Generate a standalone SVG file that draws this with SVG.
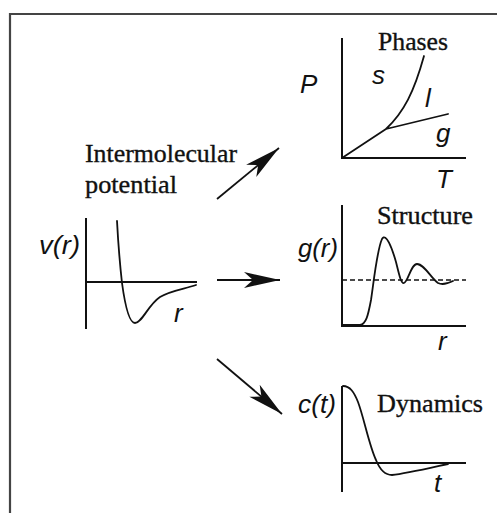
<svg xmlns="http://www.w3.org/2000/svg" width="497" height="513" viewBox="0 0 497 513">
<defs>
<style>
.ax{fill:none;stroke:#111;stroke-width:2}
.cv{fill:none;stroke:#111;stroke-width:1.8;stroke-linejoin:round;stroke-linecap:round}
.dash{fill:none;stroke:#111;stroke-width:1.5;stroke-dasharray:5 3}
.ttl{font-family:"Liberation Serif","Times New Roman",serif;font-size:26px;fill:#111;stroke:#111;stroke-width:0.35}
.lab{font-family:"Liberation Sans",Arial,sans-serif;font-style:italic;font-size:26px;fill:#111}
.arr{fill:none;stroke:#111;stroke-width:1.8}
</style>
<marker id="ah" markerUnits="userSpaceOnUse" markerWidth="40" markerHeight="20" viewBox="-38 -9 40 18" refX="0" refY="0" orient="auto">
<path d="M0,0 L-36,-8 L-27,0 L-36,8 Z" fill="#111"/>
</marker>
</defs>
<rect width="497" height="513" fill="#fff"/>
<path d="M10,513 V14 H497" fill="none" stroke="#444" stroke-width="2.2"/>

<g id="potential">
<text class="ttl" x="85" y="162" textLength="152" lengthAdjust="spacingAndGlyphs">Intermolecular</text>
<text class="ttl" x="85" y="193" textLength="92" lengthAdjust="spacingAndGlyphs">potential</text>
<path class="ax" d="M86,218 V329 M86,282 H197"/>
<path class="cv" d="M117,221 C118,240 120,265 122,283 C125,305 129,323 135,323 C142,323 148,305 160,297 C172,290 185,289 196,285"/>
<text class="lab" x="39" y="254" textLength="41" lengthAdjust="spacingAndGlyphs">v(r)</text>
<text class="lab" x="174" y="322">r</text>
</g>

<g id="phases">
<path class="ax" d="M342,38 V158 H466"/>
<path class="cv" d="M342,158 L386,129 L448,114 M386,129 C404,112 414,92 424,56"/>
<text class="ttl" x="378" y="50" textLength="70" lengthAdjust="spacingAndGlyphs">Phases</text>
<text class="lab" x="300" y="93">P</text>
<text class="lab" x="372" y="84">s</text>
<text class="lab" x="425" y="107">l</text>
<text class="lab" x="436" y="142">g</text>
<text class="lab" x="436" y="188">T</text>
</g>

<g id="structure">
<path class="ax" d="M342,205 V326 H466"/>
<path class="dash" d="M342,280 H466"/>
<path class="cv" d="M342,325 L360,325 C366,324 368,316 371,300 C374,280 377,250 382,239 C386,232 392,248 396,262 C399,274 401,284 404,283 C408,282 411,264 417,264 C424,264 431,278 438,283 C442,285 447,284 453,281"/>
<text class="ttl" x="377" y="224" textLength="96" lengthAdjust="spacingAndGlyphs">Structure</text>
<text class="lab" x="298" y="257" textLength="40" lengthAdjust="spacingAndGlyphs">g(r)</text>
<text class="lab" x="438" y="350">r</text>
</g>

<g id="dynamics">
<path class="ax" d="M342,386 V492 M342,463 H466"/>
<path class="cv" d="M343,386 C350,386 354,392 358,402 C364,418 369,445 376,460 C380,470 385,475 392,475 C405,474 430,468 448,464"/>
<text class="ttl" x="377" y="412" textLength="106" lengthAdjust="spacingAndGlyphs">Dynamics</text>
<text class="lab" x="298" y="413" textLength="38" lengthAdjust="spacingAndGlyphs">c(t)</text>
<text class="lab" x="434" y="492">t</text>
</g>

<g id="connectors">
<path class="arr" d="M217,199 L279,148" marker-end="url(#ah)"/>
<path class="arr" d="M217,280 L280,280" marker-end="url(#ah)"/>
<path class="arr" d="M217,359 L282,414" marker-end="url(#ah)"/>
</g>
</svg>
